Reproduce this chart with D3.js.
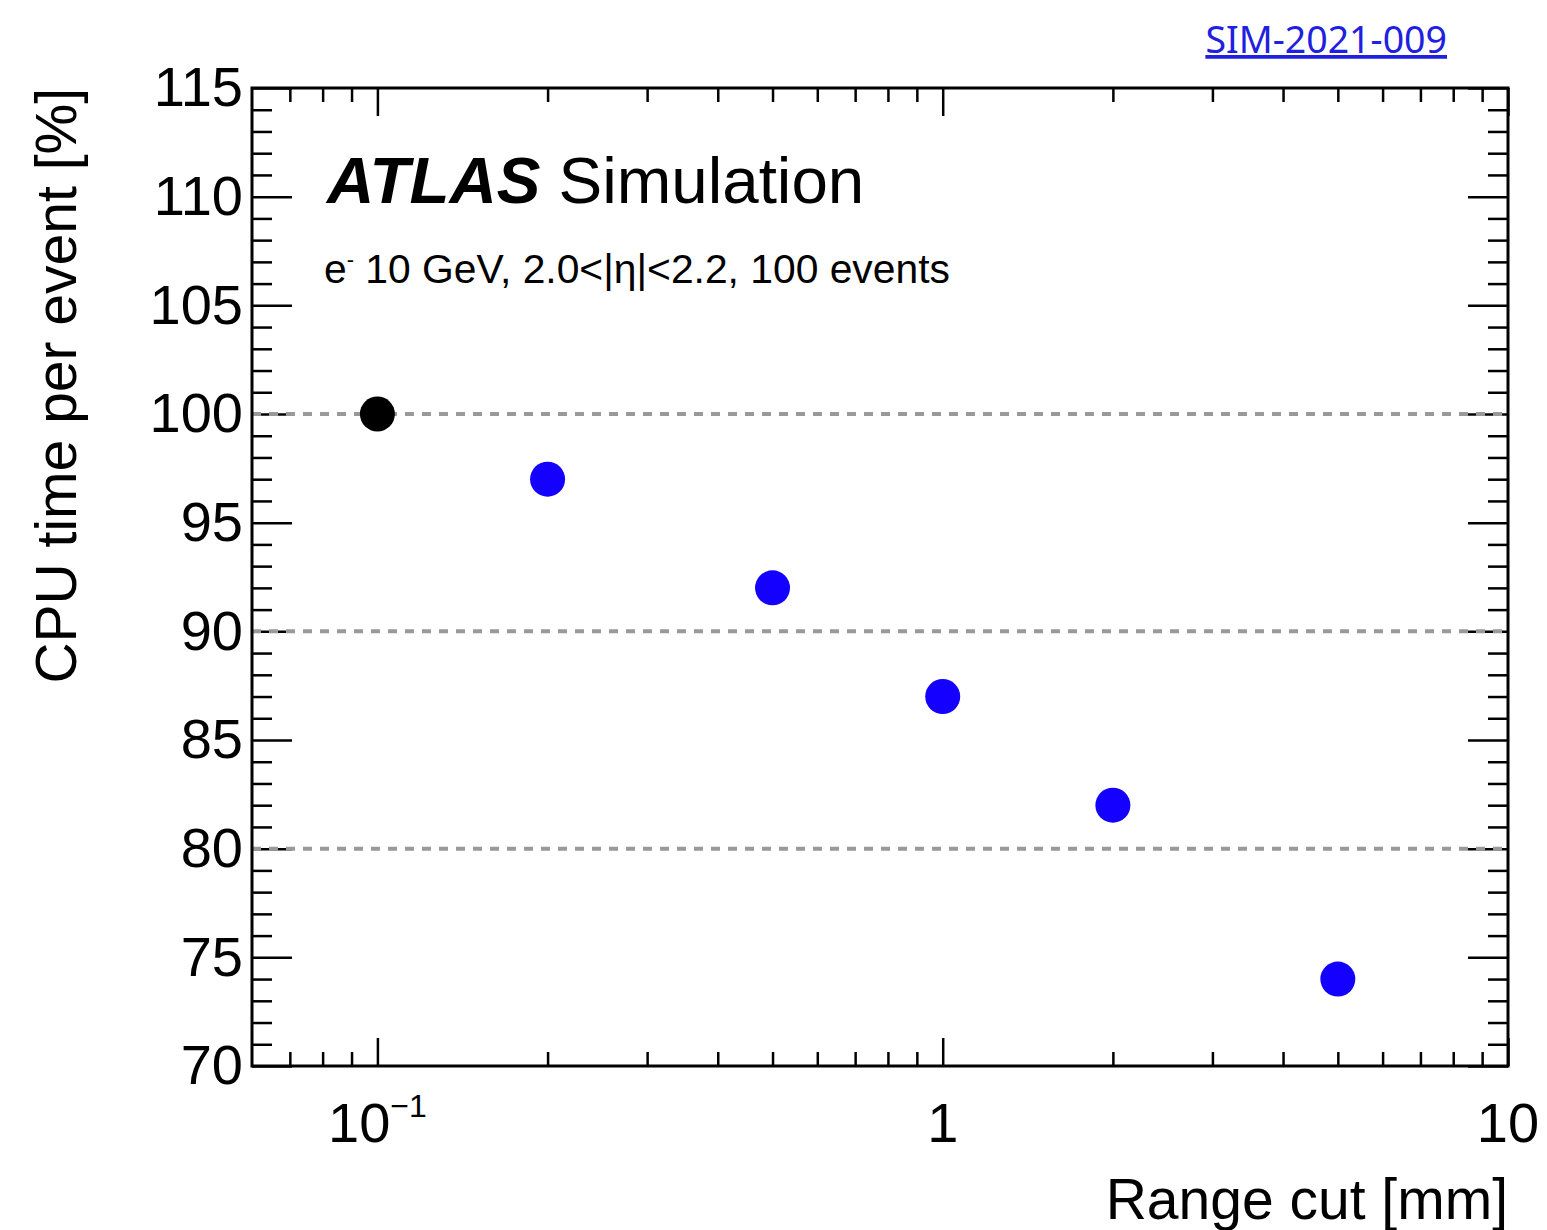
<!DOCTYPE html>
<html>
<head>
<meta charset="utf-8">
<script src="https://cdn.jsdelivr.net/npm/d3@7"></script>
<style>
  html, body { margin: 0; padding: 0; background: #fff; }
  svg { display: block; font-family: "Liberation Sans", Arial, Helvetica, sans-serif; }
</style>
</head>
<body>
<div id="chart"></div>
<script>
// range cut [mm] and relative CPU time [%]
const rangeCuts = [0.1, 0.2, 0.5, 1, 2, 5];
const cpuTime = [100, 97, 92, 87, 82, 74];
const pointColors = ["#000000", "#1400ff", "#1400ff", "#1400ff", "#1400ff", "#1400ff"];

const xMajorTicks = [0.1, 1, 10];
const xTickBase = ["10", "1", "10"];
const xTickExp = ["\u22121", "", ""];
const yMajorTicks = [70, 75, 80, 85, 90, 95, 100, 105, 110, 115];
const refLines = [80, 90, 100];

const width = 1547, height = 1230;
const margin = { top: 88, right: 39, bottom: 164, left: 252 };
const innerW = width - margin.left - margin.right;
const innerH = height - margin.top - margin.bottom;

const svg = d3.select("#chart").append("svg")
    .attr("width", width)
    .attr("height", height);

const g = svg.append("g").attr("transform", `translate(${margin.left},${margin.top})`);

const x = d3.scaleLog().domain([0.06, 10]).range([0, innerW]);
const y = d3.scaleLinear().domain([70, 115]).range([innerH, 0]);

// minor ticks: 2..9 of each decade inside the domain
const xMinor = [];
[0.01, 0.1, 1].forEach(dec => {
    for (let k = 2; k <= 9; k++) {
        const v = dec * k;
        if (v > x.domain()[0] && v < x.domain()[1]) xMinor.push(v);
    }
});
const yMinor = d3.range(70, 116, 1).filter(v => v % 5 !== 0);

function styleAxis(sel) {
    sel.select(".domain").remove();
    sel.selectAll(".tick line").attr("stroke", "#000").attr("stroke-width", 2.5);
}

// bottom / top ticks
g.append("g").attr("transform", `translate(0,${innerH})`)
    .call(d3.axisBottom(x).tickValues(xMinor).tickSize(-14).tickFormat(""))
    .call(styleAxis);
g.append("g").attr("transform", `translate(0,${innerH})`)
    .call(d3.axisBottom(x).tickValues(xMajorTicks).tickSize(-28).tickFormat(""))
    .call(styleAxis);
g.append("g")
    .call(d3.axisTop(x).tickValues(xMinor).tickSize(-14).tickFormat(""))
    .call(styleAxis);
g.append("g")
    .call(d3.axisTop(x).tickValues(xMajorTicks).tickSize(-28).tickFormat(""))
    .call(styleAxis);

// left / right ticks
g.append("g")
    .call(d3.axisLeft(y).tickValues(yMinor).tickSize(-20).tickFormat(""))
    .call(styleAxis);
g.append("g")
    .call(d3.axisLeft(y).tickValues(yMajorTicks).tickSize(-40).tickPadding(9).tickFormat(d3.format("d")))
    .call(styleAxis)
    .call(a => a.selectAll("text")
        .attr("fill", "#000")
        .style("font-size", "56px")
        .style("font-family", "'Liberation Sans', Arial, sans-serif"));
g.append("g").attr("transform", `translate(${innerW},0)`)
    .call(d3.axisRight(y).tickValues(yMinor).tickSize(-20).tickFormat(""))
    .call(styleAxis);
g.append("g").attr("transform", `translate(${innerW},0)`)
    .call(d3.axisRight(y).tickValues(yMajorTicks).tickSize(-40).tickFormat(""))
    .call(styleAxis);

// x tick labels (with superscript exponent)
const xl = g.append("g").selectAll("text")
    .data(xMajorTicks)
    .join("text")
    .attr("x", d => x(d))
    .attr("y", innerH + 76)
    .attr("text-anchor", "middle")
    .style("font-size", "56px");
xl.append("tspan").text((d, i) => xTickBase[i]);
xl.append("tspan")
    .attr("dy", -25)
    .style("font-size", "32px")
    .text((d, i) => xTickExp[i]);

// dashed reference lines
g.selectAll(".ref")
    .data(refLines)
    .join("line")
    .attr("class", "ref")
    .attr("x1", 0).attr("x2", innerW)
    .attr("y1", d => y(d)).attr("y2", d => y(d))
    .attr("stroke", "#999")
    .attr("stroke-width", 4)
    .attr("stroke-dasharray", "9,8");

// frame
g.append("rect")
    .attr("width", innerW).attr("height", innerH)
    .attr("fill", "none")
    .attr("stroke", "#000")
    .attr("stroke-width", 3);

// points
g.selectAll(".pt")
    .data(rangeCuts)
    .join("circle")
    .attr("class", "pt")
    .attr("cx", d => x(d))
    .attr("cy", (d, i) => y(cpuTime[i]))
    .attr("r", 17.5)
    .attr("fill", (d, i) => pointColors[i]);

// axis titles
svg.append("text")
    .attr("x", margin.left + innerW)
    .attr("y", 1219)
    .attr("text-anchor", "end")
    .style("font-size", "57px")
    .text("Range cut [mm]");

svg.append("text")
    .attr("transform", `translate(76,${margin.top}) rotate(-90)`)
    .attr("text-anchor", "end")
    .style("font-size", "57px")
    .text("CPU time per event [%]");

// ATLAS label
const atlas = svg.append("text")
    .attr("x", 327)
    .attr("y", 203)
    .style("font-size", "65.5px");
atlas.append("tspan")
    .style("font-weight", "bold")
    .style("font-style", "italic")
    .text("ATLAS");
atlas.append("tspan")
    .attr("dx", 18)
    .text("Simulation");

const sub = svg.append("text")
    .attr("x", 324)
    .attr("y", 283)
    .style("font-size", "40.8px");
sub.append("tspan").text("e");
sub.append("tspan").attr("dy", -16).style("font-size", "22px").text("-");
sub.append("tspan").attr("dy", 16).text(" 10 GeV, 2.0<|\u03b7|<2.2, 100 events");

// reference link
const link = svg.append("text")
    .attr("x", 1447)
    .attr("y", 53)
    .attr("text-anchor", "end")
    .attr("fill", "#2020e0")
    .style("font-family", "'Noto Sans', 'Open Sans', sans-serif")
    .style("font-size", "37.5px")
    .style("text-decoration", "underline")
    .text("SIM-2021-009");
</script>
</body>
</html>
